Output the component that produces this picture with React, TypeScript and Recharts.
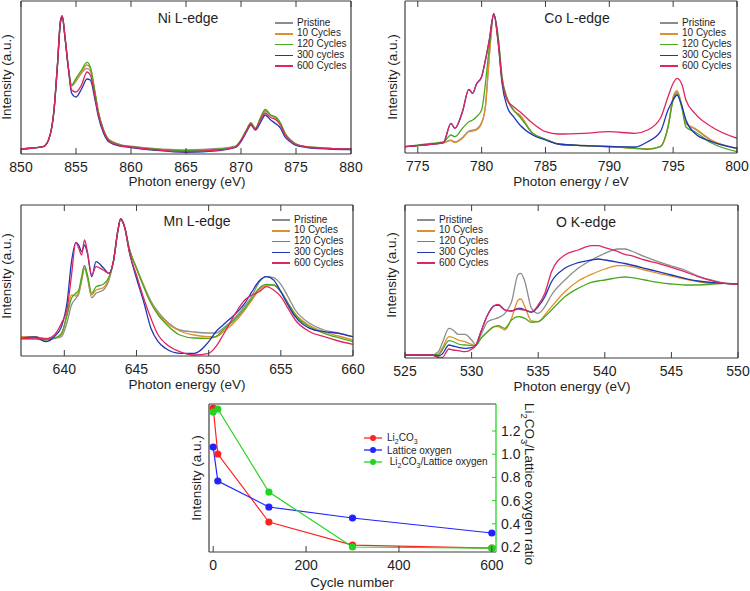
import { LineChart, Line, XAxis, YAxis, Legend } from "recharts"
import type { ReactNode } from "react"

const FONT = '"Liberation Sans", Arial, Helvetica, sans-serif'
const FRAME = "#3d3d3d"
const INK = "#1e1e1e"

const SERIES_COLORS = ["#8c8c8c", "#e0902a", "#4aa81f", "#1f37b3", "#e0265e"]
const legendLabels = ["Pristine", "10 Cycles", "120 Cycles", "300 Cycles", "600 Cycles"]
const niLegendLabels = ["Pristine", "10 Cycles", "120 Cycles", "300 cycles", "600 Cycles"]

// Ni L-edge
const niEnergy = [850, 852, 852.5, 853, 853.3, 853.6, 853.75, 854, 854.3, 854.6, 855, 855.5, 856, 856.3, 856.7, 857, 857.5, 858, 859, 860, 862, 865, 868, 869.5, 870, 870.5, 870.9, 871.3, 871.8, 872.2, 872.7, 873.2, 873.6, 874, 874.5, 875, 876, 878, 880]
const niPristine = [5, 7.3, 14, 44, 87, 134, 138, 117, 87, 68, 73, 81, 85.7, 83, 62, 43, 24, 14.5, 9.5, 7.8, 5.5, 4, 5.5, 7.8, 14, 24, 30.5, 25.5, 36, 43, 38.5, 35.5, 30, 20.5, 14, 10, 7.3, 5.7, 5]
const ni10 = [5, 7.3, 14, 44, 87, 134, 138, 117, 87, 69, 74, 82, 89, 86, 63, 44, 24, 14, 9, 7.3, 5, 3.3, 4.7, 7.3, 14, 24, 31, 25.7, 37, 44, 39, 36.5, 30.5, 20.7, 14, 10, 7.3, 5.7, 5]
const ni120 = [5, 7.3, 14, 44, 87, 134, 138, 117, 87, 69, 75.7, 84, 91.7, 87, 64, 44, 24, 14, 9, 7.3, 5, 3.3, 4.7, 7.3, 14, 24, 31.3, 25.7, 37, 44.7, 39, 36.7, 30.7, 20.7, 14, 10, 7.3, 5.7, 5]
const ni300 = [5, 7.3, 14, 43, 86, 132, 137, 116, 86, 61, 57, 65, 75, 74, 56, 39, 21, 12, 8, 6.5, 4, 1.7, 3.5, 6.5, 12.5, 22, 29, 24, 32, 39, 34, 30, 25.7, 17, 12, 8.5, 6.5, 5, 4.5]
const ni600 = [5, 7.3, 14, 44, 87, 134, 138, 117, 87, 64, 62, 69, 82, 79, 59, 41, 23, 13, 8.5, 7, 4.5, 2.3, 4, 7, 13.5, 23, 30, 25, 34.5, 41, 36.5, 34, 28.5, 19, 13, 9.5, 7, 5.5, 5]
const niTicks = [850, 855, 860, 865, 870, 875, 880]

// Co L-edge
const coEnergy = [774, 776, 777, 777.6, 777.9, 778.5, 779, 779.3, 779.6, 780, 780.3, 780.6, 780.95, 781.3, 781.6, 782, 782.5, 783, 784, 785, 786, 788, 790, 792, 793, 794, 794.6, 795, 795.3, 795.7, 796, 796.7, 798, 800]
const coPristine = [6.3, 8.7, 10.3, 12.8, 11, 15.5, 22, 22.8, 24, 30.5, 47, 97, 139, 114, 74, 54, 42.5, 37.5, 19.5, 13.5, 9, 7.5, 6.8, 5, 4.2, 6.5, 26, 55, 61.5, 46, 29.5, 24, 12.5, 4.5]
const co10 = [6.3, 8.7, 10, 12.3, 10.3, 14.7, 21.3, 22, 23, 29.7, 46.3, 96, 139, 114, 74, 54.7, 43, 38, 19.7, 13.7, 9, 7.3, 6.3, 4.7, 4, 6.3, 26.3, 56, 62.3, 46.3, 29.7, 24.7, 13, 4.7]
const co120 = [6.3, 9.5, 11, 18, 16.3, 24.7, 31.3, 33, 36.3, 43, 69.7, 106, 139, 116, 76.3, 54.7, 43, 36, 19.7, 13.7, 9, 7.3, 6.3, 4.7, 3.7, 6.3, 26.3, 53, 59.7, 44, 26, 21.3, 10, 1.3]
const co300 = [6.3, 8.7, 10.3, 29.7, 24.7, 41.3, 63.7, 59.7, 69, 76.3, 93, 113, 139, 110, 69.7, 46.3, 36.3, 28, 18, 13, 9, 7.3, 6.3, 6, 11.3, 21.3, 43, 53, 58, 46.3, 33, 19.7, 11.3, 4.7]
const co600 = [6.3, 8.7, 10.3, 29.7, 24.7, 41.3, 63.7, 59.7, 69, 76.3, 93, 113, 139, 110, 73, 53, 46.3, 41.3, 29.7, 21.3, 19, 19.7, 21.3, 19.7, 23, 34.7, 56.3, 69.7, 74.7, 68, 53, 39.7, 26.3, 14.7]
const coTicks = [775, 780, 785, 790, 795, 800]

// Mn L-edge
const mnEnergy = [637, 638, 638.7, 639.3, 639.8, 640.2, 640.5, 640.8, 641.0, 641.2, 641.4, 641.6, 641.9, 642.2, 642.7, 643.1, 643.4, 643.7, 643.9, 644.2, 644.5, 645, 645.5, 646, 646.5, 647, 648, 649, 650, 650.5, 651, 652, 652.5, 653, 653.5, 654, 654.5, 655, 655.5, 656, 657, 658, 659, 660]
const mnPristine = [19.3, 19, 17.7, 17.7, 19.3, 34.3, 51, 57.7, 62, 75, 87.7, 78, 58.3, 62.7, 66, 76, 94.3, 124.3, 137, 127.7, 107, 88, 71, 55, 44, 36, 26, 24, 23, 23, 27.7, 41, 50, 60, 73.7, 79.3, 78.3, 71.7, 59.3, 46, 32.7, 26, 23, 19]
const mn10 = [19.3, 19, 17, 18, 21, 44, 61, 60, 64, 77, 90.3, 80, 61, 66, 68.3, 78, 94.3, 124.3, 137, 127.7, 107.7, 88, 70, 54, 42, 34.3, 25, 21, 19.3, 19.3, 24, 37, 46, 56, 66, 70.5, 71, 64.3, 53, 42, 30.5, 24, 20, 16]
const mn120 = [17, 17, 16, 17.5, 22.7, 41, 57.7, 62.7, 66, 79.3, 90.3, 81, 62.7, 69.3, 71.7, 79.3, 94.3, 124.3, 137, 127.7, 107.7, 87.7, 69.3, 52.7, 41, 32.7, 21, 18, 17.7, 19.3, 26, 39.3, 47.7, 57.7, 67.7, 71.7, 71, 64.3, 52.7, 41, 29.3, 22.7, 18.3, 14.3]
const mn300 = [17.7, 19, 14.3, 19.3, 29.3, 54.3, 94.3, 113.7, 111, 104.3, 111, 102.7, 79.3, 94.3, 88.3, 82.7, 94.3, 124.3, 137, 127.7, 104.3, 77.7, 54.3, 27.7, 14.3, 7.7, 2.7, 2.7, 14.3, 24.3, 31, 44.3, 52.7, 64.3, 75, 79.3, 76, 64.3, 51, 39.3, 27.7, 24.3, 22.7, 19.3]
const mn600 = [17.7, 18, 17, 21, 32.7, 47.7, 81, 113.7, 107.7, 101, 116, 104.3, 81, 89.3, 86, 82.7, 94.3, 124.3, 137, 127.7, 104.3, 81, 57.7, 37.7, 21, 12.7, 4.3, 1, 2.7, 9.3, 21, 46, 56, 61, 64.3, 69.3, 66, 59.3, 47.7, 36, 24.3, 19.3, 15, 11.7]
const mnTicks = [640, 645, 650, 655, 660]

// O K-edge
const oEnergy = [525, 527, 527.5, 527.8, 528.3, 528.6, 529, 529.5, 530, 530.3, 530.7, 531.2, 531.7, 532, 532.5, 533, 533.5, 533.7, 534, 534.5, 535, 535.5, 536, 537, 538, 539, 539.5, 540, 541, 541.5, 542, 543, 544, 545, 546, 547, 548, 549, 550]
const oPristine = [3, 3, 6.3, 15, 29.7, 28, 23.7, 23.7, 18, 13, 23, 36.3, 39, 40.3, 44.7, 56.3, 83.7, 84.7, 76.3, 49.7, 44.7, 51.3, 63, 78, 89.7, 98, 101.5, 104.7, 109, 109, 107, 101.3, 96.3, 92, 88, 82, 78, 74.7, 74]
const o10 = [3, 3, 4, 10, 21.3, 20.5, 18, 16.3, 13.7, 12.5, 19.7, 26.3, 31.3, 31.3, 28, 39.7, 58, 59, 51.3, 37, 36.3, 43, 51.3, 66.3, 77, 83.7, 86.5, 89, 92.3, 92.3, 91.3, 88, 84.7, 82, 79, 76.3, 74.7, 74.7, 74]
const o120 = [3, 3, 3, 8, 17.3, 16.5, 14, 13, 12.3, 12.3, 19.7, 26.3, 31.3, 32.3, 29.7, 38, 41.3, 41, 39.7, 35.7, 36.3, 41.3, 48, 61.3, 69.7, 75.7, 77, 78, 80.3, 81, 80.3, 78, 75.7, 74, 73, 73, 73.7, 74.7, 74]
const o300 = [3, 3, 2, 4, 13, 12, 10.7, 9.7, 10.3, 12.3, 26.3, 43, 52.3, 53, 48, 47, 49.7, 49.5, 48, 45.7, 51.3, 61.3, 76.3, 89.7, 95.3, 98, 99, 98, 95.7, 94.5, 93, 89.7, 86.3, 83, 79.7, 77, 75.5, 74.7, 74]
const o600 = [3, 3, 0.5, 0.5, 9, 8, 7.3, 6.3, 8.7, 12.3, 26.3, 43, 52.3, 53.7, 48, 47, 49, 48.5, 48, 46.3, 53, 64.7, 86.3, 103, 108, 112.3, 112.3, 110.3, 106.3, 103.7, 102.3, 98, 94.7, 90.7, 86.3, 81.3, 77.3, 74.7, 74]
const oTicks = [525, 530, 535, 540, 545, 550]

// cycling summary
const cycles = [0, 10, 120, 300, 600]
const li2co3 = [1.398, 1.002, 0.415, 0.217, 0.191]
const latticeOxygen = [1.062, 0.769, 0.545, 0.45, 0.321]
const carbonateRatio = [1.364, 1.39, 0.674, 0.2, 0.19]
const cycleTicks = [0, 200, 400, 600]
const ratioTicks = [0.2, 0.4, 0.6, 0.8, 1.0, 1.2]

const RED = "#ff2222"
const BLUE = "#2222ff"
const GREEN = "#22d422"

function BottomTick(props: any) {
  const { x, y, payload } = props
  return (
    <g>
      <line x1={x} x2={x} y1={y} y2={y - 6} stroke={FRAME} />
      <text x={x} y={y + 13} textAnchor="middle" dominantBaseline="central" fontSize={14} fontFamily={FONT} fill={INK}>
        {payload.value}
      </text>
    </g>
  )
}

function TopTick(props: any) {
  const { x, y } = props
  return <line x1={x} x2={x} y1={y} y2={y + 6} stroke={FRAME} />
}

function RatioTick(props: any) {
  const { x, y, payload } = props
  return (
    <g>
      <line x1={x} x2={x - 4} y1={y} y2={y} stroke={GREEN} />
      <text x={x + 5} y={y} textAnchor="start" dominantBaseline="central" fontSize={14} fontFamily={FONT} fill={INK}>
        {Number(payload.value).toFixed(1)}
      </text>
    </g>
  )
}

function SpecLegend({ labels }: { labels: string[] }) {
  return (
    <div style={{ fontFamily: FONT, fontSize: 10, color: INK, lineHeight: "10.8px" }}>
      {labels.map((label, i) => (
        <div key={label} style={{ display: "flex", alignItems: "center", height: 10.8, whiteSpace: "nowrap" }}>
          <span style={{ display: "inline-block", width: 18, height: 1.6, background: SERIES_COLORS[i], marginRight: 4 }} />
          {label}
        </div>
      ))}
    </div>
  )
}

type PanelProps = {
  left: number
  top: number
  width: number
  height: number
  margin: { top: number; right: number; bottom: number; left: number }
  energies: number[]
  values: number[][]
  labels: string[]
  domain: [number, number]
  ticks: number[]
  yMax: number
  legendLeft: number
  legendTop: number
}

function SpectrumPanel(p: PanelProps) {
  const data = p.energies.map((e, i) => {
    const row: Record<string, number> = { e }
    p.values.forEach((vals, k) => {
      row["s" + k] = vals[i]
    })
    return row
  })
  return (
    <div style={{ position: "absolute", left: p.left, top: p.top }}>
      <LineChart width={p.width} height={p.height} data={data} margin={p.margin}>
        <XAxis
          type="number"
          dataKey="e"
          domain={p.domain}
          ticks={p.ticks}
          interval={0}
          height={30}
          tickSize={0}
          tickMargin={0}
          axisLine={{ stroke: FRAME, strokeWidth: 1.2 }}
          tickLine={false}
          allowDataOverflow
          tick={(t: any) => <BottomTick {...t} />}
        />
        <XAxis
          xAxisId="top"
          orientation="top"
          type="number"
          dataKey="e"
          domain={p.domain}
          ticks={p.ticks}
          interval={0}
          height={1}
          tickSize={0}
          tickMargin={0}
          axisLine={{ stroke: FRAME, strokeWidth: 1.2 }}
          tickLine={false}
          allowDataOverflow
          tick={(t: any) => <TopTick {...t} />}
        />
        <YAxis width={1} domain={[0, p.yMax]} allowDataOverflow tick={false} tickLine={false} axisLine={{ stroke: FRAME, strokeWidth: 1.2 }} />
        <YAxis
          yAxisId="right"
          orientation="right"
          width={1}
          domain={[0, p.yMax]}
          allowDataOverflow
          tick={false}
          tickLine={false}
          axisLine={{ stroke: FRAME, strokeWidth: 1.2 }}
        />
        {p.values.map((_, k) => (
          <Line
            key={k}
            type="monotone"
            dataKey={"s" + k}
            name={p.labels[k]}
            stroke={SERIES_COLORS[k]}
            strokeWidth={1.3}
            dot={false}
            isAnimationActive={false}
          />
        ))}
        <Legend
          layout="vertical"
          align="center"
          verticalAlign="middle"
          wrapperStyle={{ left: p.legendLeft, top: p.legendTop, width: "auto", height: "auto" }}
          content={() => <SpecLegend labels={p.labels} />}
        />
      </LineChart>
    </div>
  )
}

function Txt({ x, y, size = 13.5, rotate = 0, children }: { x: number; y: number; size?: number; rotate?: number; children: ReactNode }) {
  return (
    <div
      style={{
        position: "absolute",
        left: x,
        top: y,
        transform: `translate(-50%, -50%) rotate(${rotate}deg)`,
        fontSize: size,
        whiteSpace: "nowrap",
        lineHeight: 1,
        color: INK,
      }}
    >
      {children}
    </div>
  )
}

const li = (
  <>
    Li<sub style={{ fontSize: "0.7em" }}>2</sub>CO<sub style={{ fontSize: "0.7em" }}>3</sub>
  </>
)

const summaryLegend = [
  { label: li, color: RED },
  { label: <>Lattice oxygen</>, color: BLUE },
  { label: <>&nbsp;{li}/Lattice oxygen</>, color: GREEN },
]

function SummaryLegend() {
  return (
    <div style={{ fontFamily: FONT, fontSize: 10, color: INK }}>
      {summaryLegend.map((item, i) => (
        <div key={i} style={{ display: "flex", alignItems: "center", height: 12, whiteSpace: "nowrap" }}>
          <svg width={18} height={8} style={{ marginRight: 5 }}>
            <line x1={0} x2={18} y1={4} y2={4} stroke={item.color} strokeWidth={1.3} />
            <circle cx={9} cy={4} r={3} fill={item.color} />
          </svg>
          <span>{item.label}</span>
        </div>
      ))}
    </div>
  )
}

function CycleChart() {
  const data = cycles.map((c, i) => ({ c, li: li2co3[i], lat: latticeOxygen[i], ratio: carbonateRatio[i] }))
  const dom: [number, number] = [0.157, 1.433]
  return (
    <div style={{ position: "absolute", left: 180, top: 395 }}>
      <LineChart width={370} height={196} data={data} margin={{ top: 8, right: 24, bottom: 9, left: 28 }}>
        <XAxis
          type="number"
          dataKey="c"
          domain={[-9, 609]}
          ticks={cycleTicks}
          interval={0}
          height={30}
          tickSize={0}
          tickMargin={0}
          axisLine={{ stroke: FRAME, strokeWidth: 1.2 }}
          tickLine={false}
          allowDataOverflow
          tick={(t: any) => <BottomTick {...t} />}
        />
        <XAxis
          xAxisId="top"
          orientation="top"
          type="number"
          dataKey="c"
          domain={[-9, 609]}
          height={1}
          allowDataOverflow
          tick={false}
          tickLine={false}
          axisLine={{ stroke: FRAME, strokeWidth: 1.2 }}
        />
        <YAxis yAxisId="l" width={1} domain={dom} allowDataOverflow tick={false} tickLine={false} axisLine={{ stroke: FRAME, strokeWidth: 1.2 }} />
        <YAxis
          yAxisId="r"
          orientation="right"
          width={30}
          domain={dom}
          ticks={ratioTicks}
          interval={0}
          tickSize={0}
          tickMargin={0}
          allowDataOverflow
          tickLine={false}
          axisLine={{ stroke: GREEN, strokeWidth: 1.3 }}
          tick={(t: any) => <RatioTick {...t} />}
        />
        <Line yAxisId="l" type="linear" dataKey="li" stroke={RED} strokeWidth={1.2} dot={{ r: 3, fill: RED, stroke: RED }} isAnimationActive={false} />
        <Line yAxisId="l" type="linear" dataKey="lat" stroke={BLUE} strokeWidth={1.2} dot={{ r: 3, fill: BLUE, stroke: BLUE }} isAnimationActive={false} />
        <Line yAxisId="r" type="linear" dataKey="ratio" stroke={GREEN} strokeWidth={1.2} dot={{ r: 3, fill: GREEN, stroke: GREEN }} isAnimationActive={false} />
        <Legend
          layout="vertical"
          align="center"
          verticalAlign="middle"
          wrapperStyle={{ left: 184, top: 37, width: "auto", height: "auto" }}
          content={() => <SummaryLegend />}
        />
      </LineChart>
    </div>
  )
}

export default function App() {
  return (
    <div style={{ position: "absolute", left: 0, top: 0, width: 750, height: 591, background: "#fff", fontFamily: FONT, overflow: "hidden" }}>
      <SpectrumPanel
        left={0}
        top={0}
        width={370}
        height={195}
        margin={{ top: 0, right: 18, bottom: 11, left: 20 }}
        energies={niEnergy}
        values={[niPristine, ni10, ni120, ni300, ni600]}
        labels={niLegendLabels}
        domain={[850, 880]}
        ticks={niTicks}
        yMax={153}
        legendLeft={275}
        legendTop={17.6}
      />
      <SpectrumPanel
        left={370}
        top={0}
        width={380}
        height={195}
        margin={{ top: 0, right: 12, bottom: 12, left: 34 }}
        energies={coEnergy}
        values={[coPristine, co10, co120, co300, co600]}
        labels={legendLabels}
        domain={[774, 800]}
        ticks={coTicks}
        yMax={152}
        legendLeft={290}
        legendTop={17.6}
      />
      <SpectrumPanel
        left={0}
        top={195}
        width={370}
        height={200}
        margin={{ top: 9, right: 16, bottom: 9, left: 20 }}
        energies={mnEnergy}
        values={[mnPristine, mn10, mn120, mn300, mn600]}
        labels={legendLabels}
        domain={[637, 660]}
        ticks={mnTicks}
        yMax={151}
        legendLeft={272}
        legendTop={19.6}
      />
      <SpectrumPanel
        left={370}
        top={195}
        width={380}
        height={200}
        margin={{ top: 9, right: 11, bottom: 7, left: 34 }}
        energies={oEnergy}
        values={[oPristine, o10, o120, o300, o600]}
        labels={legendLabels}
        domain={[525, 550]}
        ticks={oTicks}
        yMax={153}
        legendLeft={47}
        legendTop={19.6}
      />
      <CycleChart />

      <Txt x={188} y={18} size={14}>Ni L-edge</Txt>
      <Txt x={577} y={18} size={14}>Co L-edge</Txt>
      <Txt x={197} y={221} size={14}>Mn L-edge</Txt>
      <Txt x={586} y={222} size={14}>O K-edge</Txt>

      <Txt x={187} y={182}>Photon energy (eV)</Txt>
      <Txt x={571} y={182}>Photon energy / eV</Txt>
      <Txt x={187} y={385}>Photon energy (eV)</Txt>
      <Txt x={572} y={387}>Photon energy (eV)</Txt>
      <Txt x={352} y={583}>Cycle number</Txt>

      <Txt x={7} y={77} rotate={-90}>Intensity (a.u.)</Txt>
      <Txt x={393} y={77} rotate={-90}>Intensity (a.u.)</Txt>
      <Txt x={7} y={276} rotate={-90}>Intensity (a.u.)</Txt>
      <Txt x={392} y={275} rotate={-90}>Intensity (a.u.)</Txt>
      <Txt x={197} y={478} rotate={-90}>Intensity (a.u.)</Txt>
      <Txt x={528} y={484} rotate={90}>
        {li}/Lattice oxygen ratio
      </Txt>
    </div>
  )
}
